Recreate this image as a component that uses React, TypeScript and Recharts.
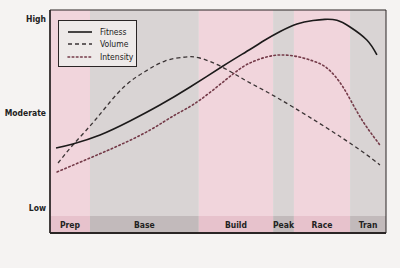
import React from 'react';
import { LineChart, Line, XAxis, YAxis, ReferenceArea, ReferenceLine } from 'recharts';

// Season phases (x in % of season)
const phaseNames = ['Prep', 'Base', 'Build', 'Peak', 'Race', 'Tran'];
const phaseStart = [0, 11.9, 44.3, 66.4, 72.6, 89.3];
const phaseEnd = [11.9, 44.3, 66.4, 72.6, 89.3, 100];
const phaseTone = ['pink', 'gray', 'pink', 'gray', 'pink', 'gray'];

// Y levels
const levelValues = [0, 1, 2];
const levelLabels = ['Low', 'Moderate', 'High'];

// Series
const fitnessX = [1.8, 6.8, 14.9, 23.8, 32.7, 41.7, 51.5, 59.5, 64.0, 68.5, 73.5, 78.3, 81.8, 85.4, 89.3, 94.3, 97.3];
const fitnessY = [0.634, 0.677, 0.772, 0.92, 1.089, 1.28, 1.502, 1.677, 1.777, 1.867, 1.947, 1.984, 1.996, 1.986, 1.915, 1.777, 1.619];

const volumeX = [2.4, 6.8, 11.9, 16.4, 22.3, 28.3, 34.2, 40.2, 44.6, 51.2, 58.0, 64.6, 72.3, 82.4, 92.3, 98.2];
const volumeY = [0.476, 0.666, 0.867, 1.058, 1.291, 1.444, 1.555, 1.597, 1.587, 1.492, 1.354, 1.227, 1.068, 0.846, 0.613, 0.455];

const intensityX = [2.1, 11.9, 20.8, 29.8, 37.2, 44.6, 54.5, 59.5, 64.0, 68.5, 73.5, 78.3, 82.4, 87.2, 92.3, 98.2];
const intensityY = [0.381, 0.529, 0.666, 0.825, 0.984, 1.142, 1.418, 1.534, 1.594, 1.619, 1.603, 1.555, 1.481, 1.28, 0.963, 0.666];

const Y_MIN = -0.265;
const Y_MAX = 2.095;
const STRIP_TOP = -0.085;

const zip = (xs: number[], ys: number[]) => xs.map((x, i) => ({ x, v: ys[i] }));
const fitnessData = zip(fitnessX, fitnessY);
const volumeData = zip(volumeX, volumeY);
const intensityData = zip(intensityX, intensityY);

const FONT = "'DejaVu Sans Condensed', 'Liberation Sans Narrow', Roboto, 'DejaVu Sans', sans-serif";

const bandFill: Record<string, string> = { pink: '#f1d5dc', gray: '#d9d4d4' };
const stripFill: Record<string, string> = { pink: '#e7c2cc', gray: '#c2babb' };

const series = [
  { name: 'Fitness', color: '#1c1a1a', dash: undefined as string | undefined, width: 1.6 },
  { name: 'Volume', color: '#3a3334', dash: '4 3', width: 1.3 },
  { name: 'Intensity', color: '#743a48', dash: '1.6 2.6', width: 1.6 },
];

const YTick = (props: any) => {
  const { y, payload } = props;
  return (
    <text x={46} y={y} dy={3} textAnchor="end" fontFamily={FONT} fontSize={8.5} fontWeight="bold" fill="#222">
      {levelLabels[levelValues.indexOf(payload.value)]}
    </text>
  );
};

export default function App() {
  return (
    <div style={{ position: 'absolute', left: 0, top: 0, width: 400, height: 268, background: '#f5f3f2' }}>
      <LineChart width={400} height={268} margin={{ top: 10, right: 14, bottom: 35, left: 0 }}>
        <XAxis type="number" dataKey="x" domain={[0, 100]} hide allowDataOverflow />
        <YAxis
          type="number"
          domain={[Y_MIN, Y_MAX]}
          ticks={levelValues}
          width={50}
          axisLine={false}
          tickLine={false}
          tick={<YTick />}
          allowDataOverflow
        />
        {phaseNames.map((p, i) => (
          <ReferenceArea
            key={'b' + p}
            x1={phaseStart[i]}
            x2={phaseEnd[i]}
            y1={STRIP_TOP}
            y2={Y_MAX}
            fill={bandFill[phaseTone[i]]}
            fillOpacity={1}
            stroke="none"
          />
        ))}
        {phaseNames.map((p, i) => (
          <ReferenceArea
            key={'s' + p}
            x1={phaseStart[i]}
            x2={phaseEnd[i]}
            y1={Y_MIN}
            y2={STRIP_TOP}
            fill={stripFill[phaseTone[i]]}
            fillOpacity={1}
            stroke="none"
            label={{ value: p, position: 'center', fontFamily: FONT, fontSize: 8.5, fontWeight: 'bold', fill: '#222' }}
          />
        ))}
        <Line data={intensityData} dataKey="v" type="natural" stroke={series[2].color} strokeWidth={series[2].width} strokeDasharray={series[2].dash} strokeLinecap="round" dot={false} isAnimationActive={false} />
        <Line data={volumeData} dataKey="v" type="natural" stroke={series[1].color} strokeWidth={series[1].width} strokeDasharray={series[1].dash} dot={false} isAnimationActive={false} />
        <Line data={fitnessData} dataKey="v" type="natural" stroke={series[0].color} strokeWidth={series[0].width} dot={false} isAnimationActive={false} />
        <ReferenceArea x1={0} x2={100} y1={Y_MIN} y2={Y_MAX} fill="none" stroke="#2a2525" strokeWidth={1} />
        <ReferenceLine y={Y_MIN} stroke="#2a2525" strokeWidth={2} />
        <ReferenceLine x={0} stroke="#2a2525" strokeWidth={1.5} />
      </LineChart>
      <div
        style={{
          position: 'absolute',
          left: 58,
          top: 20,
          width: 79,
          height: 47,
          background: '#eeeae9',
          border: '1px solid #2a2525',
          boxSizing: 'border-box',
        }}
      >
        {series.map((s, i) => (
          <div key={s.name} style={{ position: 'absolute', left: 8, top: 5 + i * 12.5, height: 11, display: 'flex', alignItems: 'center' }}>
            <svg width={26} height={6} style={{ display: 'block' }}>
              <line x1={1} y1={3} x2={25} y2={3} stroke={s.color} strokeWidth={s.width} strokeDasharray={s.dash} strokeLinecap={i === 2 ? 'round' : 'butt'} />
            </svg>
            <span style={{ marginLeft: 7, fontFamily: FONT, fontSize: 8.5, color: '#222', whiteSpace: 'nowrap' }}>{s.name}</span>
          </div>
        ))}
      </div>
    </div>
  );
}
